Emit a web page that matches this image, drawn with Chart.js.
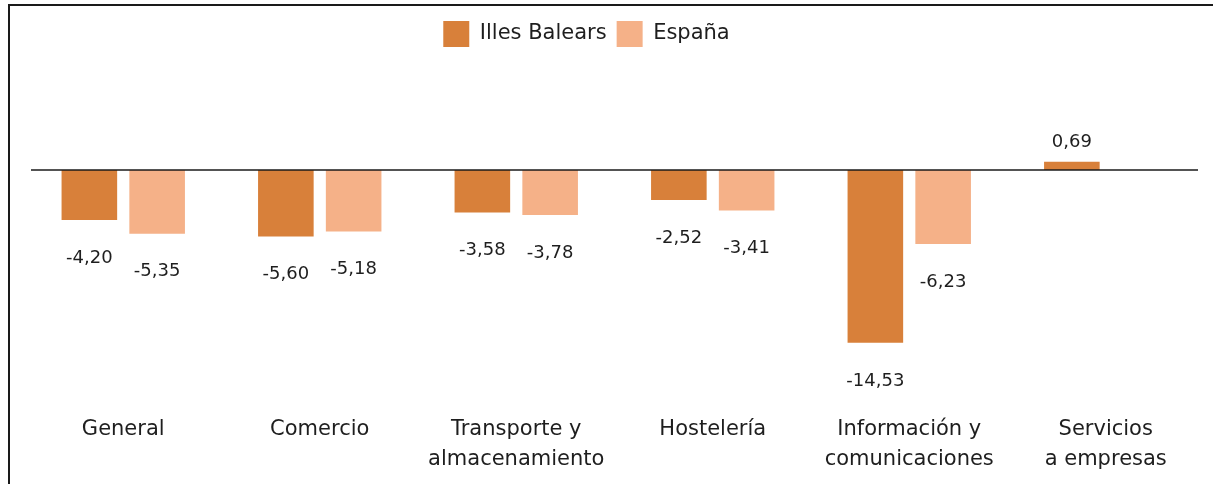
<!DOCTYPE html>
<html>
<head>
<meta charset="utf-8">
<script src="https://cdn.jsdelivr.net/npm/chart.js@4.4.1/dist/chart.umd.min.js"></script>
<style>
  html, body { margin: 0; padding: 0; background: #fff; }
  #wrap { position: relative; width: 1213px; height: 484px; overflow: hidden; background: #fff; }
  #c { position: absolute; left: 0; top: 0; }
  #frame { position: absolute; left: 8px; top: 4px; width: 1400px; height: 700px;
           border-left: 2px solid #1a1a1a; border-top: 2px solid #1a1a1a; pointer-events: none; }
</style>
</head>
<body>
<div id="wrap">
  <canvas id="c" width="1213" height="484"></canvas>
  <div id="frame"></div>
</div>
<script>
const categories = [
  ['General'],
  ['Comercio'],
  ['Transporte y', 'almacenamiento'],
  ['Hostelería'],
  ['Información y', 'comunicaciones'],
  ['Servicios', 'a empresas']
];
const seriesNames = ['Illes Balears', 'España'];
const illesBalears = [-4.20, -5.60, -3.58, -2.52, -14.53, 0.69];
const espana = [-5.35, -5.18, -3.78, -3.41, -6.23, null];

const FONT = "'DejaVu Sans', sans-serif";
const TEXT = '#1e1e1e';

const zeroLine = {
  id: 'zeroLine',
  afterDatasetsDraw(chart) {
    const y = chart.scales.y.getPixelForValue(0);
    const a = chart.chartArea;
    const ctx = chart.ctx;
    ctx.save();
    ctx.strokeStyle = '#1a1a1a';
    ctx.lineWidth = 1.6;
    ctx.beginPath();
    ctx.moveTo(a.left + 6, y);
    ctx.lineTo(a.right - 6, y);
    ctx.stroke();
    ctx.restore();
  }
};

const valueLabels = {
  id: 'valueLabels',
  afterDatasetsDraw(chart) {
    const ctx = chart.ctx;
    ctx.save();
    ctx.font = '18px ' + FONT;
    ctx.fillStyle = TEXT;
    ctx.textAlign = 'center';
    ctx.textBaseline = 'middle';
    chart.data.datasets.forEach((ds, di) => {
      const meta = chart.getDatasetMeta(di);
      meta.data.forEach((el, i) => {
        const v = ds.data[i];
        if (v === null || v === undefined) return;
        const txt = v.toFixed(2).replace('.', ',');
        const y = v < 0 ? el.y + 38 : el.y - 19;
        ctx.fillText(txt, el.x, y);
      });
    });
    ctx.restore();
  }
};

const legendShift = {
  id: 'legendShift',
  beforeDraw(chart) {
    const lg = chart.legend;
    if (!lg._shifted) {
      lg.left -= 28;
      lg.right -= 28;
      lg._shifted = true;
    }
  }
};

new Chart(document.getElementById('c'), {
  type: 'bar',
  data: {
    labels: categories,
    datasets: [
      { label: seriesNames[0], data: illesBalears, backgroundColor: '#D8803A', borderWidth: 0 },
      { label: seriesNames[1], data: espana, backgroundColor: '#F5B188', borderWidth: 0 }
    ]
  },
  options: {
    responsive: false,
    animation: false,
    devicePixelRatio: 1,
    layout: { padding: { left: 25, right: 9, top: 11, bottom: 11 } },
    datasets: { bar: { categoryPercentage: 0.69, barPercentage: 0.82 } },
    plugins: {
      legend: {
        position: 'top',
        labels: {
          font: { family: FONT, size: 21 },
          color: TEXT,
          boxWidth: 26,
          boxHeight: 26,
          padding: 10
        }
      },
      tooltip: { enabled: false }
    },
    scales: {
      x: {
        grid: { display: false, drawTicks: false },
        border: { display: false },
        afterFit(scale) { scale.height = 77; },
        ticks: {
          font: { family: FONT, size: 21, lineHeight: 1.43 },
          color: TEXT,
          padding: 19,
          maxRotation: 0,
          autoSkip: false
        }
      },
      y: {
        display: false,
        min: -19,
        max: 9.5
      }
    }
  },
  plugins: [zeroLine, valueLabels, legendShift]
});
</script>
</body>
</html>
